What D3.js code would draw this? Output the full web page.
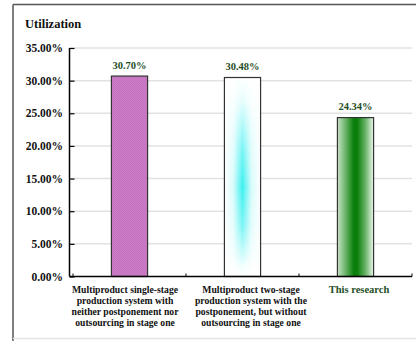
<!DOCTYPE html>
<html>
<head>
<meta charset="utf-8">
<script src="https://cdn.jsdelivr.net/npm/d3@7"></script>
<style>
  html, body { margin: 0; padding: 0; background: #fff; }
  svg { display: block; }
</style>
</head>
<body>
<svg id="chart" width="416" height="341"></svg>
<script>
// Utilization of the three production systems
const categories = ["single", "two-stage", "this"];
const categoryLines = [
  ["Multiproduct single-stage", "production system with", "neither postponement nor", "outsourcing in stage one"],
  ["Multiproduct two-stage", "production system with the", "postponement, but without", "outsourcing in stage one"],
  ["This research"]
];
const values = [30.70, 30.48, 24.34];
const valueLabels = ["30.70%", "30.48%", "24.34%"];
const yTicks = [0, 5, 10, 15, 20, 25, 30, 35];

const FONT = "Liberation Serif";
const svg = d3.select("#chart");
const defs = svg.append("defs");

// Frame around the chart
svg.append("line").attr("x1", 13).attr("x2", 416).attr("y1", 4.5).attr("y2", 4.5)
  .attr("stroke", "#555").attr("stroke-width", 1.5);
svg.append("line").attr("x1", 13).attr("x2", 13).attr("y1", 4.5).attr("y2", 341)
  .attr("stroke", "#555").attr("stroke-width", 1.5);
svg.append("line").attr("x1", 13).attr("x2", 416).attr("y1", 338.5).attr("y2", 338.5)
  .attr("stroke", "#e4e4e4").attr("stroke-width", 1.5);

const axisX = 69.5;
const x = d3.scaleBand().domain(categories).range([73, 412]).padding(0);
const y = d3.scaleLinear().domain([0, 35]).range([276.5, 48]);
const barW = x.bandwidth() * 0.32;
// horizontal nudge of each category caption from its band centre
const captionShift = [-4.5, 8.5, 3.5];

// Fills
// pink hatched texture
const pat = defs.append("pattern").attr("id", "pinkHatch")
  .attr("patternUnits", "userSpaceOnUse").attr("width", 2).attr("height", 2);
pat.append("rect").attr("width", 2).attr("height", 2).attr("fill", "#cb7ec5");
pat.append("rect").attr("width", 1).attr("height", 1).attr("fill", "#c472be");
pat.append("rect").attr("x", 1).attr("y", 1).attr("width", 1).attr("height", 1).attr("fill", "#c472be");

// cyan glow: horizontal gradient masked by a vertical one
const cyanH = defs.append("linearGradient").attr("id", "cyanH")
  .attr("x1", 0).attr("x2", 1).attr("y1", 0).attr("y2", 0);
[[0, "#ffffff"], [0.25, "#d8fbfb"], [0.5, "#3cf0f0"], [0.75, "#d8fbfb"], [1, "#ffffff"]]
  .forEach(([o, c]) => cyanH.append("stop").attr("offset", o).attr("stop-color", c));
const cyanV = defs.append("linearGradient").attr("id", "cyanV")
  .attr("x1", 0).attr("x2", 0).attr("y1", 0).attr("y2", 1);
[[0, "#000"], [0.12, "#222"], [0.35, "#aaa"], [0.55, "#fff"], [0.75, "#aaa"], [0.95, "#111"], [1, "#000"]]
  .forEach(([o, c]) => cyanV.append("stop").attr("offset", o).attr("stop-color", c));
const cyanMask = defs.append("mask").attr("id", "cyanMask")
  .attr("maskContentUnits", "objectBoundingBox");
cyanMask.append("rect").attr("width", 1).attr("height", 1).attr("fill", "url(#cyanV)");

// green ribbon
const greenH = defs.append("linearGradient").attr("id", "greenH")
  .attr("x1", 0).attr("x2", 1).attr("y1", 0).attr("y2", 0);
[[0, "#c9e4c9"], [0.25, "#5fae5f"], [0.45, "#0a7f0a"], [0.55, "#0a7f0a"], [0.78, "#6ab46a"], [1, "#eef7ee"]]
  .forEach(([o, c]) => greenH.append("stop").attr("offset", o).attr("stop-color", c));

// Gridlines
svg.append("g").selectAll("line").data(yTicks.filter(d => d > 0)).join("line")
  .attr("x1", axisX).attr("x2", 412)
  .attr("y1", d => y(d)).attr("y2", d => y(d))
  .attr("stroke", "#e2e2e2").attr("stroke-width", 1.5);

// Bars
const bx = (c) => x(c) + (x.bandwidth() - barW) / 2;
const barG = svg.append("g");
values.forEach((v, i) => {
  const c = categories[i];
  const r = { x: bx(c), y: y(v), w: barW, h: y(0) - y(v) };
  if (i === 0) {
    barG.append("rect").attr("x", r.x).attr("y", r.y).attr("width", r.w).attr("height", r.h)
      .attr("fill", "url(#pinkHatch)");
  } else if (i === 1) {
    barG.append("rect").attr("x", r.x).attr("y", r.y).attr("width", r.w).attr("height", r.h)
      .attr("fill", "#fff");
    barG.append("rect").attr("x", r.x).attr("y", r.y).attr("width", r.w).attr("height", r.h)
      .attr("fill", "url(#cyanH)").attr("mask", "url(#cyanMask)");
  } else {
    barG.append("rect").attr("x", r.x).attr("y", r.y).attr("width", r.w).attr("height", r.h)
      .attr("fill", "url(#greenH)");
  }
  barG.append("rect").attr("x", r.x).attr("y", r.y).attr("width", r.w).attr("height", r.h)
    .attr("fill", "none").attr("stroke", "#333").attr("stroke-width", 1.2);
});

// Value labels
svg.append("g").selectAll("text").data(values).join("text")
  .attr("x", (d, i) => x(categories[i]) + x.bandwidth() / 2)
  .attr("y", d => y(d) - 7.5)
  .attr("text-anchor", "middle")
  .attr("font-family", FONT).attr("font-weight", "bold")
  .attr("font-size", 10.5)
  .attr("fill", "#1f4f1f")
  .text((d, i) => valueLabels[i]);

// Y axis
const yAxis = d3.axisLeft(y).tickValues(yTicks)
  .tickFormat(d => d.toFixed(2) + "%")
  .tickSize(-5).tickPadding(6.5);
const yg = svg.append("g").attr("transform", `translate(${axisX},0)`).call(yAxis)
  .attr("font-family", FONT).attr("font-weight", "bold").attr("font-size", 11.5);
yg.select(".domain").remove();
yg.selectAll(".tick line").attr("stroke", "#000").attr("stroke-width", 1.2);
yg.selectAll(".tick text").attr("fill", "#111");
svg.append("line").attr("x1", axisX).attr("x2", axisX).attr("y1", y(35)).attr("y2", y(0))
  .attr("stroke", "#000").attr("stroke-width", 1.5);

// X axis
svg.append("line").attr("x1", axisX).attr("x2", 412).attr("y1", y(0)).attr("y2", y(0))
  .attr("stroke", "#000").attr("stroke-width", 1.5);
const seps = categories.map(c => x(c)).concat([x.range()[1]]);
svg.append("g").selectAll("line").data(seps).join("line")
  .attr("x1", d => d).attr("x2", d => d)
  .attr("y1", y(0)).attr("y2", y(0) - 3)
  .attr("stroke", "#000").attr("stroke-width", 1);

// Category labels
const catG = svg.append("g");
categoryLines.forEach((lines, i) => {
  const cx = x(categories[i]) + x.bandwidth() / 2 + captionShift[i];
  const t = catG.append("text")
    .attr("x", cx)
    .attr("y", 292.5)
    .attr("text-anchor", "middle")
    .attr("font-family", FONT).attr("font-weight", "bold")
    .attr("font-size", i === 2 ? 10.5 : 9.7)
    .attr("fill", i === 2 ? "#1f4f1f" : "#111");
  lines.forEach((l, j) => {
    t.append("tspan").attr("x", cx)
      .attr("dy", j === 0 ? 0 : 11.3).text(l);
  });
});

// Title
svg.append("text").attr("x", 25).attr("y", 27.5)
  .attr("font-family", FONT).attr("font-weight", "bold")
  .attr("font-size", 12.5).attr("fill", "#111").text("Utilization");
</script>
</body>
</html>
